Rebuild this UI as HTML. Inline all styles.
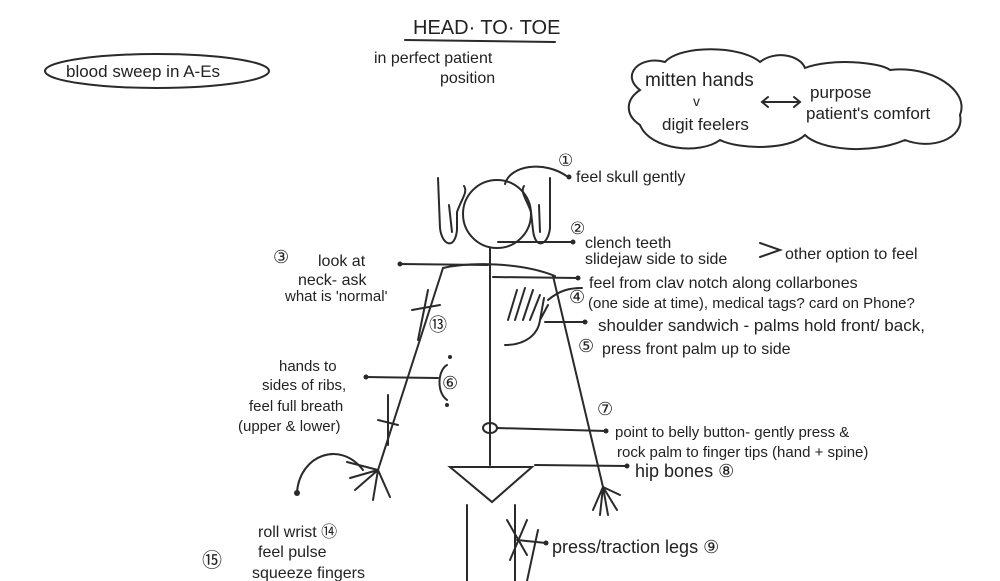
<!DOCTYPE html>
<html><head><meta charset="utf-8"><style>
html,body{margin:0;padding:0;background:#fff;}
svg{display:block}
text{font-family:"Liberation Sans",sans-serif;fill:#222;}
</style></head><body>
<svg width="1000" height="581" viewBox="0 0 1000 581" xmlns="http://www.w3.org/2000/svg">
<g fill="none" stroke="#2a2a2a" stroke-width="2" stroke-linecap="round">
<line x1="405" y1="40" x2="555" y2="42"/>
<ellipse cx="157" cy="71" rx="112" ry="17"/>
<path d="M640,90 C620,75 640,55 665,62 C680,45 740,45 760,62 C775,50 800,55 805,68 C830,58 880,62 890,70 C930,65 970,90 960,115 C965,140 930,150 905,140 C870,155 820,150 805,135 C790,150 740,150 720,140 C700,155 650,150 640,125 C625,115 625,100 640,90Z"/>
<line x1="762" y1="102" x2="800" y2="102"/>
<path d="M768,97 L762,102 L768,107 M794,97 L800,102 L794,107"/>
<circle cx="497" cy="214" r="34"/>
<path d="M505,184 C510,165 545,160 568,177"/>
<path d="M438,178 L440,228 C442,246 455,250 457,230 L457,212 C462,198 468,192 464,186"/>
<path d="M449,205 L452,232"/>
<path d="M550,178 L550,228 C548,246 535,250 533,230 L531,212 C526,198 520,192 524,186"/>
<path d="M539,205 L540,232"/>
<line x1="490" y1="248" x2="490" y2="465"/>
<path d="M443,268 C470,262 520,262 555,276"/>
<line x1="443" y1="268" x2="378" y2="470"/>
<line x1="553" y1="276" x2="603" y2="487"/>
<path d="M428,290 L418,340 M412,310 L440,305"/>
<path d="M388,395 L388,445 M378,420 L398,425"/>
<path d="M378,470 L347,462 M378,470 L350,478 M378,470 L355,490 M378,470 L373,500 M378,470 L390,497"/>
<path d="M363,470 C340,440 300,455 297,492"/>
<path d="M603,487 L593,510 M603,487 L600,515 M603,487 L608,515 M603,487 L617,510 M603,487 L620,495"/>
<path d="M450,467 L532,467 L492,502 Z"/>
<line x1="467" y1="505" x2="467" y2="581"/>
<line x1="515" y1="505" x2="515" y2="581"/>
<path d="M538,530 L527,581"/>
<path d="M507,520 L527,555 M527,520 L510,560 M517,540 L546,543"/>
<line x1="498" y1="242" x2="573" y2="242"/>
<line x1="400" y1="264" x2="488" y2="265"/>
<line x1="493" y1="277" x2="578" y2="278"/>
<path d="M548,300 C560,290 570,288 582,288"/>
<line x1="545" y1="322" x2="585" y2="322"/>
<line x1="366" y1="377" x2="438" y2="378"/>
<path d="M447,365 C438,370 436,392 447,400"/>
<ellipse cx="490" cy="428" rx="7" ry="5"/>
<line x1="497" y1="428" x2="606" y2="431"/>
<line x1="535" y1="465" x2="627" y2="466"/>
<path d="M505,345 C525,345 538,335 540,320 L544,298 M540,320 L548,305 M508,320 L517,290 M515,320 L525,288 M523,320 L533,290 M530,320 L540,295"/>
<path d="M760,243 L780,250 L760,257"/>
</g>
<g fill="#2a2a2a">
<circle cx="569" cy="177" r="2.5"/><circle cx="297" cy="493" r="3"/>
<circle cx="573" cy="242" r="2.5"/><circle cx="400" cy="264" r="2.5"/><circle cx="578" cy="278" r="2.5"/>
<circle cx="585" cy="322" r="2.5"/><circle cx="366" cy="377" r="2.5"/><circle cx="450" cy="357" r="2"/><circle cx="447" cy="405" r="2"/>
<circle cx="606" cy="431" r="2.5"/><circle cx="627" cy="466" r="2.5"/><circle cx="546" cy="543" r="2.5"/>
</g>
<text x="413" y="34" font-size="20">HEAD· TO· TOE</text>
<text x="374" y="63" font-size="16">in perfect patient</text>
<text x="440" y="83" font-size="16">position</text>
<text x="66" y="77" font-size="17">blood sweep in A-Es</text>
<text x="645" y="86" font-size="19">mitten hands</text>
<text x="693" y="106" font-size="14">v</text>
<text x="662" y="130" font-size="17">digit feelers</text>
<text x="810" y="98" font-size="17">purpose</text>
<text x="806" y="119" font-size="17">patient's comfort</text>
<text x="558" y="166" font-size="17">①</text>
<text x="576" y="182" font-size="16">feel skull gently</text>
<text x="570" y="234" font-size="17">②</text>
<text x="585" y="248" font-size="16">clench teeth</text>
<text x="585" y="264" font-size="16">slidejaw side to side</text>
<text x="785" y="259" font-size="16">other option to feel</text>
<text x="273" y="263" font-size="18">③</text>
<text x="318" y="266" font-size="16">look at</text>
<text x="298" y="285" font-size="16">neck- ask</text>
<text x="285" y="301" font-size="15">what is 'normal'</text>
<text x="589" y="288" font-size="16">feel from clav notch along collarbones</text>
<text x="569" y="303" font-size="18">④</text>
<text x="588" y="308" font-size="15">(one side at time), medical tags? card on Phone?</text>
<text x="598" y="331" font-size="17">shoulder sandwich - palms hold front/ back,</text>
<text x="578" y="352" font-size="18">⑤</text>
<text x="602" y="354" font-size="16">press front palm up to side</text>
<text x="429" y="331" font-size="18">⑬</text>
<text x="279" y="371" font-size="15">hands to</text>
<text x="262" y="390" font-size="15">sides of ribs,</text>
<text x="249" y="411" font-size="15">feel full breath</text>
<text x="238" y="431" font-size="15">(upper &amp; lower)</text>
<text x="442" y="389" font-size="18">⑥</text>
<text x="597" y="415" font-size="18">⑦</text>
<text x="615" y="437" font-size="15">point to belly button- gently press &amp;</text>
<text x="617" y="457" font-size="15">rock palm to finger tips (hand + spine)</text>
<text x="635" y="477" font-size="18">hip bones ⑧</text>
<text x="258" y="537" font-size="16">roll wrist ⑭</text>
<text x="202" y="567" font-size="20">⑮</text>
<text x="258" y="557" font-size="16">feel pulse</text>
<text x="252" y="578" font-size="16">squeeze fingers</text>
<text x="552" y="553" font-size="18">press/traction legs ⑨</text>
</svg>
</body></html>
